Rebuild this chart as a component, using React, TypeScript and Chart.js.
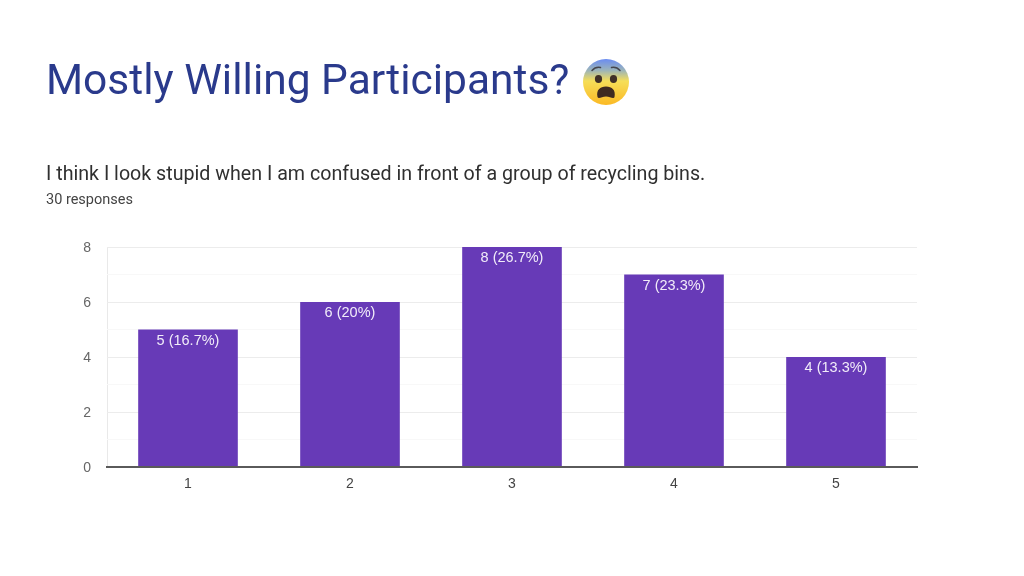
import React, { useEffect, useRef } from "react";
import { Chart, registerables } from "chart.js";

Chart.register(...registerables);

const categories = ["1", "2", "3", "4", "5"];
const counts = [5, 6, 8, 7, 4];
const barLabels = ["5 (16.7%)", "6 (20%)", "8 (26.7%)", "7 (23.3%)", "4 (13.3%)"];

const pageTitle = "Mostly Willing Participants?";
const question = "I think I look stupid when I am confused in front of a group of recycling bins.";
const responses = "30 responses";

const FONT = "Roboto, sans-serif";
const CHART_FONT = "'Liberation Sans', Arial, sans-serif";

const barLabelPlugin = {
  id: "barLabels",
  afterDatasetsDraw(chart: any) {
    const { ctx } = chart;
    const meta = chart.getDatasetMeta(0);
    ctx.save();
    ctx.fillStyle = "#f1ecf9";
    ctx.font = `14.5px ${CHART_FONT}`;
    ctx.textAlign = "center";
    ctx.textBaseline = "middle";
    meta.data.forEach((bar: any, i: number) => {
      ctx.fillText(barLabels[i], bar.x, bar.y + 11);
    });
    ctx.restore();
  },
};

function ScaredFace() {
  return (
    <svg
      width="50"
      height="50"
      viewBox="0 0 50 50"
      style={{ position: "absolute", left: 581, top: 57 }}
      aria-hidden="true"
    >
      <defs>
        <linearGradient id="faceFill" x1="0" y1="0" x2="0" y2="1">
          <stop offset="0" stopColor="#6a8cf2" />
          <stop offset="0.25" stopColor="#9db5b8" />
          <stop offset="0.48" stopColor="#f6de58" />
          <stop offset="1" stopColor="#fbb924" />
        </linearGradient>
      </defs>
      <circle cx="25" cy="25" r="23" fill="url(#faceFill)" />
      <ellipse cx="17.5" cy="22" rx="3.6" ry="4" fill="#3f3028" />
      <ellipse cx="32.5" cy="22" rx="3.6" ry="4" fill="#3f3028" />
      <path d="M11 13.5 Q14.5 9.5 19.5 10.5" stroke="#45454d" strokeWidth="1.5" fill="none" strokeLinecap="round" />
      <path d="M39 13.5 Q35.5 9.5 30.5 10.5" stroke="#45454d" strokeWidth="1.5" fill="none" strokeLinecap="round" />
      <path d="M16.5 40 C15 33 19 29.5 25 29.5 C31 29.5 35 33 33.5 40 C32.5 42.5 29 39.5 25 39.5 C21 39.5 17.5 42.5 16.5 40 Z" fill="#3f2a20" />
    </svg>
  );
}

export default function App() {
  const ref = useRef<HTMLCanvasElement>(null);

  useEffect(() => {
    const chart = new Chart(ref.current as HTMLCanvasElement, {
      type: "bar",
      data: {
        labels: categories,
        datasets: [
          {
            data: counts,
            backgroundColor: "#673ab7",
            barPercentage: 0.615,
            categoryPercentage: 1,
          },
        ],
      },
      options: {
        responsive: false,
        animation: false,
        events: [],
        layout: { padding: { left: 0, right: 107, top: 247, bottom: 0 } },
        plugins: { legend: { display: false }, tooltip: { enabled: false }, title: { display: false } },
        scales: {
          x: {
            afterFit: (s: any) => {
              s.height = 109;
            },
            grid: {
              display: true,
              drawTicks: false,
              color: "#e9e9e9",
              lineWidth: (c: any) => (c.index === 0 || c.index === 5 ? 1 : 0),
              offset: true,
            },
            border: { display: true, color: "#5a5a5a", width: 2, z: 2 },
            ticks: { color: "#444", font: { family: CHART_FONT, size: 14 }, padding: 9 },
          },
          y: {
            min: 0,
            max: 8,
            afterFit: (s: any) => {
              s.width = 107;
            },
            afterBuildTicks: (s: any) => {
              s.ticks = [0, 1, 2, 3, 4, 5, 6, 7, 8].map((value) => ({ value }));
            },
            grid: {
              drawTicks: false,
              color: (c: any) => (c.tick && c.tick.value % 2 === 0 ? "#ececec" : "#f8f8f8"),
              lineWidth: 1,
            },
            border: { display: false },
            ticks: {
              autoSkip: false,
              color: "#666",
              font: { family: CHART_FONT, size: 14 },
              padding: 16,
              labelOffset: 1,
              callback: (v: any) => (Number(v) % 2 === 0 ? String(v) : ""),
            },
          },
        },
      },
      plugins: [barLabelPlugin],
    } as any);
    return () => chart.destroy();
  }, []);

  const text: React.CSSProperties = {
    position: "absolute",
    fontFamily: FONT,
    whiteSpace: "nowrap",
    margin: 0,
    lineHeight: 1,
  };

  return (
    <div style={{ position: "fixed", left: 0, top: 0, width: 1024, height: 576, background: "#fff", overflow: "hidden" }}>
      <canvas ref={ref} width={1024} height={576} style={{ position: "absolute", left: 0, top: 0, width: 1024, height: 576 }} />
      <div style={{ ...text, left: 46, top: 59, fontSize: 42.5, color: "#2a3a8c" }}>{pageTitle}</div>
      <ScaredFace />
      <div style={{ ...text, left: 46, top: 164, fontSize: 19.65, color: "#303030" }}>{question}</div>
      <div style={{ ...text, left: 46, top: 193, fontSize: 14.5, color: "#444" }}>{responses}</div>
    </div>
  );
}
